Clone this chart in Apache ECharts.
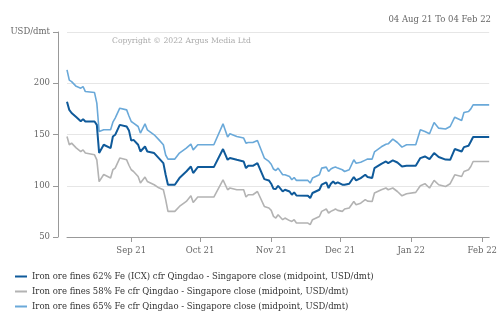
<!DOCTYPE html>
<html><head><meta charset="utf-8">
<script src="https://cdn.jsdelivr.net/npm/echarts@6/dist/echarts.min.js"></script>
<style>html,body{margin:0;padding:0;background:#fff}#c{width:500px;height:333px}</style>
</head><body><div id="c"></div>
<script>
var dates = ['2021-08-04','2021-08-05','2021-08-06','2021-08-08','2021-08-10','2021-08-11','2021-08-12','2021-08-16','2021-08-17','2021-08-18','2021-08-20','2021-08-23','2021-08-24','2021-08-25','2021-08-27','2021-08-30','2021-08-31','2021-09-01','2021-09-02','2021-09-04','2021-09-05','2021-09-07','2021-09-08','2021-09-11','2021-09-13','2021-09-15','2021-09-16','2021-09-17','2021-09-20','2021-09-22','2021-09-25','2021-09-27','2021-09-28','2021-09-30','2021-10-07','2021-10-11','2021-10-13','2021-10-14','2021-10-17','2021-10-20','2021-10-21','2021-10-22','2021-10-24','2021-10-26','2021-10-29','2021-10-31','2021-11-01','2021-11-02','2021-11-03','2021-11-04','2021-11-06','2021-11-07','2021-11-09','2021-11-10','2021-11-11','2021-11-12','2021-11-17','2021-11-18','2021-11-19','2021-11-22','2021-11-23','2021-11-25','2021-11-26','2021-11-27','2021-11-28','2021-11-29','2021-11-30','2021-12-02','2021-12-03','2021-12-05','2021-12-07','2021-12-08','2021-12-10','2021-12-12','2021-12-13','2021-12-15','2021-12-16','2021-12-19','2021-12-21','2021-12-22','2021-12-24','2021-12-26','2021-12-28','2021-12-30','2022-01-03','2022-01-05','2022-01-07','2022-01-09','2022-01-11','2022-01-13','2022-01-16','2022-01-18','2022-01-20','2022-01-23','2022-01-24','2022-01-26','2022-01-27','2022-01-28','2022-02-04'];

var fe62 = [182,174,171,167,163,165,162.7,162.7,159.4,132,140,136.7,148,149.7,159.4,157.8,154,144,144.8,140,133.4,138.3,133.4,131.9,127,122.1,110.7,101,101,107.5,113.9,118.8,112.4,118.2,118.2,135.8,125.3,127,125.3,123.7,117.2,119.5,119.5,122.1,106.5,105.2,102,97,96.8,100,94.4,96.1,94.4,91.2,93.5,90.5,90.2,88,92.9,96.1,101,103.2,97.8,102,104.2,102,103.2,101,101,102,108.5,105.2,107.5,110.7,108.5,107.5,117.2,121.4,123.7,122.1,124.7,122.7,118.8,119.5,119.5,127,128.6,126,131.9,128,125.5,125.3,135.8,133.4,137.7,139,143.2,147.5,147.5];

var fe58 = [148,140,141.6,137,133.4,135,131.9,130.2,125.3,104,111,107.5,115.6,117.2,127,125.3,120,115.6,113.9,109,102.6,108.5,104.2,101,98,96.1,86.4,75,75,79.8,84.7,90.2,83.7,89,89,105.8,96.1,97.8,96.1,96.1,89,91.2,91.2,94.4,79.8,78.3,76,70.1,68.5,71.7,66.9,68.5,66,65.2,66.9,63.6,63.6,62,66.9,70,75,77.3,73.4,75,76,77.3,76,75,77.3,78.3,84.7,81.5,83,86.4,85,84.7,92.9,96.1,97.8,96.1,97.8,94.4,90.2,92.2,93.5,100,102,97.8,105.2,101,99.3,102,110.7,109,113.9,115.6,118.8,123.7,123.7];

var fe65 = [213,203,201.6,197,195.2,196.8,191.9,190.9,180.6,152.9,154.6,154.6,162,166,175.7,174,168,162.7,161.1,157.8,151.4,160.4,154.6,149.7,145,140,130,126,126,131.9,136.7,140.6,135,140,140,160.4,147.5,150.7,148,146.5,141.6,142.2,142.2,144.2,127,123.7,121,116.3,114.9,117.2,110.7,110.7,109,105.8,108.1,105.2,105.2,102.6,107.5,110.7,117.2,118.2,113.9,116.3,117.5,118.2,117.2,115.6,113.9,115.6,125.3,122,123,125,126,126,133,138,140.5,140.9,145.5,142.2,137.7,140,140,154.6,152.9,150.7,161.7,156.2,155.3,157.8,166.9,163.6,171.4,172.4,175,178.9,178.9];

var seriesNames = [
  'Iron ore fines 62% Fe (ICX) cfr Qingdao - Singapore close (midpoint, USD/dmt)',
  'Iron ore fines 58% Fe cfr Qingdao - Singapore close (midpoint, USD/dmt)',
  'Iron ore fines 65% Fe cfr Qingdao - Singapore close (midpoint, USD/dmt)'
];
var yTicks = [50,100,150,200,250];
var titleText = '04 Aug 21 To 04 Feb 22';
var copyrightText = 'Copyright \u00a9 2022 Argus Media Ltd';
var unitText = 'USD/dmt';

var colors = ['#0f5a9a','#b3b3b3','#6aa9d9'];
var FONT = 'DejaVu Serif';
var MONTHS = ['Jan','Feb','Mar','Apr','May','Jun','Jul','Aug','Sep','Oct','Nov','Dec'];

function ts(s){ var p=s.split('-'); return Date.UTC(+p[0],+p[1]-1,+p[2]); }
function pairs(vals){ return dates.map(function(d,i){ return [ts(d), vals[i]]; }); }

var chart = echarts.init(document.getElementById('c'), null, {renderer:'canvas'});
var allVals = [fe62, fe58, fe65];
chart.setOption({
  animation:false,
  useUTC:true,
  color: colors,
  title:{ text:titleText, right:4, top:10, textStyle:{fontFamily:FONT, fontSize:8.5, fontWeight:'normal', color:'#666'} },
  graphic:[{ type:'text', left:112, top:37, style:{ text:copyrightText, fontFamily:FONT, fontSize:7.7, fill:'#aaa' } }],
  legend:{
    orient:'vertical', left:10, top:267, itemGap:6, itemWidth:12, itemHeight:2, icon:'rect',
    textStyle:{fontFamily:FONT, fontSize:8.5, color:'#333'},
    data: seriesNames
  },
  grid:{ left:67, right:8, top:32, bottom:96, containLabel:false },
  xAxis:{
    type:'time', min:ts(dates[0]), max:ts(dates[dates.length-1]), splitNumber:6,
    axisLine:{show:true, lineStyle:{color:'#999', width:1}},
    axisTick:{show:true, length:5, lineStyle:{color:'#999'}},
    axisLabel:{ fontFamily:FONT, fontSize:8.5, color:'#666', margin:9, hideOverlap:false,
      formatter:function(v){ var d=new Date(v); return MONTHS[d.getUTCMonth()]+' '+String(d.getUTCFullYear()).slice(2); } },
    splitLine:{show:false}
  },
  yAxis:{
    type:'value', min:50, max:250, interval:50, offset:9,
    axisLine:{show:true, lineStyle:{color:'#999', width:1}},
    axisTick:{show:true, length:5, lineStyle:{color:'#999'}},
    axisLabel:{ fontFamily:FONT, fontSize:8.5, color:'#666', margin:8,
      formatter:function(v){ return v===250 ? unitText : String(v); } },
    splitLine:{show:true, lineStyle:{color:'#e6e6e6', width:1}}
  },
  series: seriesNames.map(function(n,i){
    return { name:n, type:'line', data:pairs(allVals[i]), showSymbol:false, symbol:'none',
      lineStyle:{ width: i===0 ? 2 : 1.6, color: colors[i] }, z: i===0 ? 3 : 2 };
  })
});
</script></body></html>
